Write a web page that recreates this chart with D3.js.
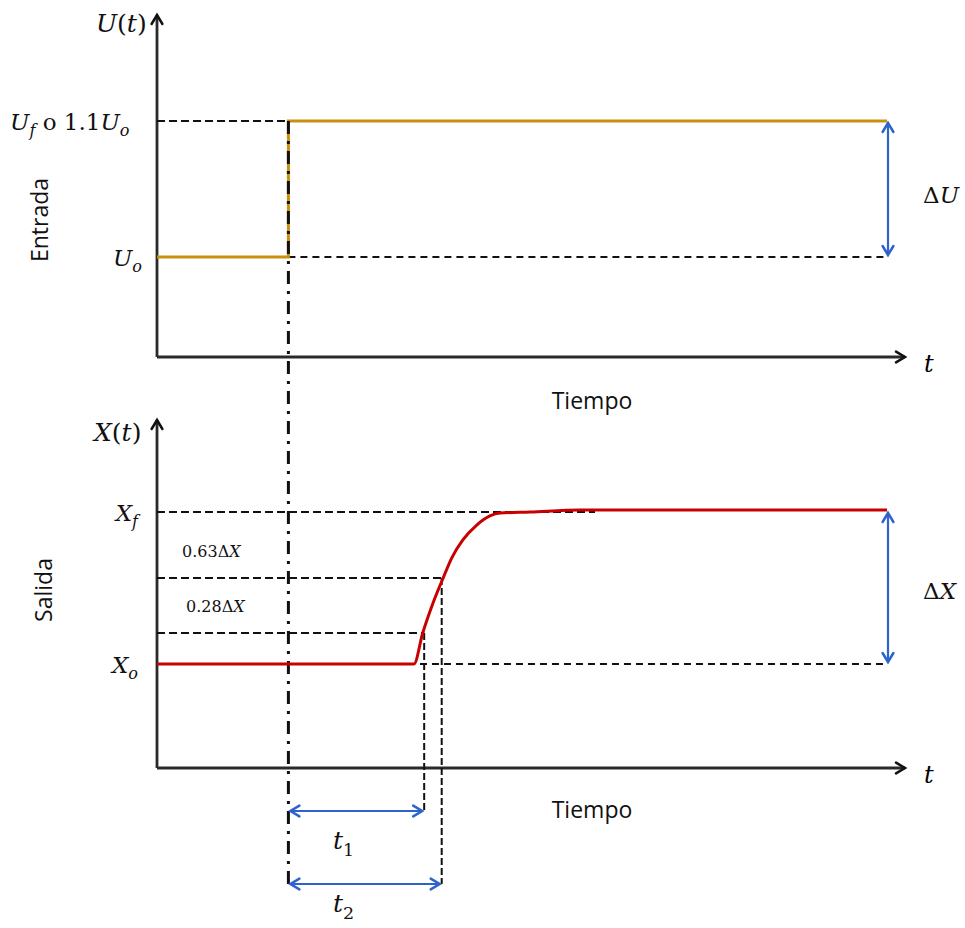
<!DOCTYPE html>
<html lang="es">
<head>
  <meta charset="UTF-8">
  <title>Respuesta escalón</title>
  <script src="https://cdn.jsdelivr.net/npm/d3@7"></script>
  <style>
    body { margin: 0; background: #fff; }
  </style>
</head>
<body>
<script>
  // datos
  const stepTime = 1.8            // instante del escalón
  const inputLevels = [1, 1.1]    // Uo, Uf
  const inputTime = [0, 1.8, 1.8, 10]
  const inputValue = [1, 1, 1.1, 1.1]
  const outTime = [0, 3.52, 3.64, 3.78, 3.92, 4.04, 4.19, 4.38, 4.56, 4.70, 5.11, 5.79, 10]
  const outValue = [0, 0, 0.204, 0.40, 0.566, 0.70, 0.816, 0.914, 0.974, 0.993, 1.0, 1.013, 1.013]
  const outLevels = [0, 0.204, 0.566, 1]   // Xo, 0.28, 0.63, Xf
  const t1 = 3.66
  const t2 = 3.90

  const width = 965, height = 928
  const axisColor = '#2a2a2a'
  const uColor = '#c8900c'
  const xColor = '#c80000'
  const blue = '#2f63cc'
  const serif = '"DejaVu Serif", "Liberation Serif", serif'
  const sans = '"Open Sans", "Noto Sans", sans-serif'

  const svg = d3.select('body').append('svg').attr('width', width).attr('height', height)

  const x = d3.scaleLinear().domain([0, 10]).range([157, 887])
  const yU = d3.scaleLinear().domain([1, 1.1]).range([257, 121])
  const yX = d3.scaleLinear().domain([0, 1]).range([664, 512])

  const topPanel = { top: 15, bottom: 357 }
  const botPanel = { top: 420, bottom: 768 }
  const axisEnd = 905

  function chevron(g, px, py, dir, color, size) {
    const s = size || 9
    let d
    if (dir === 'up') d = `M${px - s * 0.6},${py + s} L${px},${py} L${px + s * 0.6},${py + s}`
    if (dir === 'down') d = `M${px - s * 0.6},${py - s} L${px},${py} L${px + s * 0.6},${py - s}`
    if (dir === 'right') d = `M${px - s},${py - s * 0.6} L${px},${py} L${px - s},${py + s * 0.6}`
    if (dir === 'left') d = `M${px + s},${py - s * 0.6} L${px},${py} L${px + s},${py + s * 0.6}`
    g.append('path').attr('d', d).attr('fill', 'none')
      .attr('stroke', color).attr('stroke-width', 2.5)
      .attr('stroke-linejoin', 'miter').attr('stroke-linecap', 'round')
  }

  function drawAxes(panel) {
    const g = svg.append('g')
    g.append('line')
      .attr('x1', x(0)).attr('x2', x(0))
      .attr('y1', panel.bottom).attr('y2', panel.top)
      .attr('stroke', axisColor).attr('stroke-width', 2.8)
    g.append('line')
      .attr('x1', x(0)).attr('x2', axisEnd)
      .attr('y1', panel.bottom).attr('y2', panel.bottom)
      .attr('stroke', axisColor).attr('stroke-width', 2.8)
    chevron(g, x(0), panel.top, 'up', '#111', 9)
    chevron(g, axisEnd, panel.bottom, 'right', '#111', 9)
    g.append('text')
      .attr('x', 924).attr('y', panel.bottom + 15)
      .style('font-family', serif).style('font-style', 'italic').style('font-size', '24px')
      .text('t')
    return g
  }

  function dashed(x1, y1, x2, y2, dash, w) {
    svg.append('line')
      .attr('x1', x1).attr('y1', y1).attr('x2', x2).attr('y2', y2)
      .attr('stroke', '#111').attr('stroke-width', w || 2)
      .attr('stroke-dasharray', dash || '8,4')
  }

  function blueArrow(x1, y1, x2, y2) {
    const g = svg.append('g')
    g.append('line')
      .attr('x1', x1).attr('y1', y1).attr('x2', x2).attr('y2', y2)
      .attr('stroke', blue).attr('stroke-width', 2.2)
    if (x1 === x2) {
      chevron(g, x1, y1, 'up', blue, 9)
      chevron(g, x2, y2, 'down', blue, 9)
    } else {
      chevron(g, x1, y1, 'left', blue, 9)
      chevron(g, x2, y2, 'right', blue, 9)
    }
  }

  // texto matemático: partes [texto, italic, sub, volver a la base]
  function mathText(px, py, parts, size, anchor) {
    const t = svg.append('text')
      .attr('x', px).attr('y', py)
      .attr('text-anchor', anchor || 'start')
      .style('font-family', serif).style('font-size', size + 'px')
      .attr('fill', '#111')
    parts.forEach(p => {
      const ts = t.append('tspan').text(p[0])
        .style('font-style', p[1] ? 'italic' : 'normal')
      if (p[2]) {
        ts.attr('dy', size * 0.28).style('font-size', (size * 0.7) + 'px')
      } else if (p[3]) {
        ts.attr('dy', -size * 0.28)
      }
    })
    return t
  }

  // ---------- panel de entrada ----------
  drawAxes(topPanel)

  dashed(x(0), yU(inputLevels[1]), x(stepTime), yU(inputLevels[1]))
  dashed(x(stepTime), yU(inputLevels[0]), x(10), yU(inputLevels[0]), '7,5', 1.8)

  const inputData = inputTime.map((t, i) => ({ t, v: inputValue[i] }))
  svg.append('path')
    .datum(inputData)
    .attr('fill', 'none').attr('stroke', uColor).attr('stroke-width', 3)
    .attr('d', d3.line().x(d => x(d.t)).y(d => yU(d.v)))

  blueArrow(x(10) + 1, yU(inputLevels[1]) + 2, x(10) + 1, yU(inputLevels[0]) - 2)

  mathText(96, 32, [['U', true], ['(', false], ['t', true], [')', false]], 25)
  mathText(10, 130, [['U', true], ['f', true, true], [' o 1.1', false, false, true], ['U', true], ['o', true, true]], 23)
  mathText(142, 266, [['U', true], ['o', true, true]], 23, 'end')
  mathText(923, 203, [['Δ', false], ['U', true]], 23)

  svg.append('text')
    .attr('transform', `translate(48,${220}) rotate(-90)`)
    .attr('text-anchor', 'middle')
    .style('font-family', sans).style('font-size', '23px').attr('fill', '#111')
    .text('Entrada')
  svg.append('text')
    .attr('x', 592).attr('y', 409)
    .attr('text-anchor', 'middle')
    .style('font-family', sans).style('font-size', '23px').attr('fill', '#111')
    .text('Tiempo')

  // ---------- panel de salida ----------
  drawAxes(botPanel)

  dashed(x(0), yX(outLevels[3]), x(6), yX(outLevels[3]))
  dashed(x(0), yX(outLevels[2]), x(t2), yX(outLevels[2]))
  dashed(x(0), yX(outLevels[1]), x(t1), yX(outLevels[1]))
  dashed(x(outTime[1]) + 6, yX(outLevels[0]), x(10), yX(outLevels[0]), '7,5', 1.8)

  // verticales t1, t2
  dashed(x(t1), yX(outLevels[1]), x(t1), 811, '7,3', 2)
  dashed(x(t2), yX(outLevels[2]), x(t2), 884, '7,3', 2)

  // línea de punto y raya del escalón
  svg.append('line')
    .attr('x1', x(stepTime)).attr('x2', x(stepTime))
    .attr('y1', yU(inputLevels[1])).attr('y2', 886)
    .attr('stroke', '#111').attr('stroke-width', 3)
    .attr('stroke-dasharray', '13,7,3,7')

  const outData = outTime.map((t, i) => ({ t, v: outValue[i] }))
  svg.append('path')
    .datum(outData)
    .attr('fill', 'none').attr('stroke', xColor).attr('stroke-width', 3)
    .attr('stroke-linejoin', 'round')
    .attr('d', d3.line().curve(d3.curveMonotoneX).x(d => x(d.t)).y(d => yX(d.v)))

  blueArrow(x(10) + 1, yX(outLevels[3]) + 1, x(10) + 1, yX(outLevels[0]) - 2)
  blueArrow(x(stepTime) + 2, 811, x(t1) - 2, 811)
  blueArrow(x(stepTime) + 2, 884, x(t2) - 2, 884)

  mathText(94, 441, [['X', true], ['(', false], ['t', true], [')', false]], 25)
  mathText(138, 521, [['X', true], ['f', true, true]], 23, 'end')
  mathText(138, 673, [['X', true], ['o', true, true]], 23, 'end')
  mathText(923, 599, [['Δ', false], ['X', true]], 23)
  mathText(182, 557, [['0.63Δ', false], ['X', true]], 16)
  mathText(186, 612, [['0.28Δ', false], ['X', true]], 16)
  mathText(333, 849, [['t', true], ['1', false, true]], 25)
  mathText(333, 912, [['t', true], ['2', false, true]], 25)

  svg.append('text')
    .attr('transform', `translate(52,${590}) rotate(-90)`)
    .attr('text-anchor', 'middle')
    .style('font-family', sans).style('font-size', '23px').attr('fill', '#111')
    .text('Salida')
  svg.append('text')
    .attr('x', 592).attr('y', 818)
    .attr('text-anchor', 'middle')
    .style('font-family', sans).style('font-size', '23px').attr('fill', '#111')
    .text('Tiempo')
</script>
</body>
</html>
